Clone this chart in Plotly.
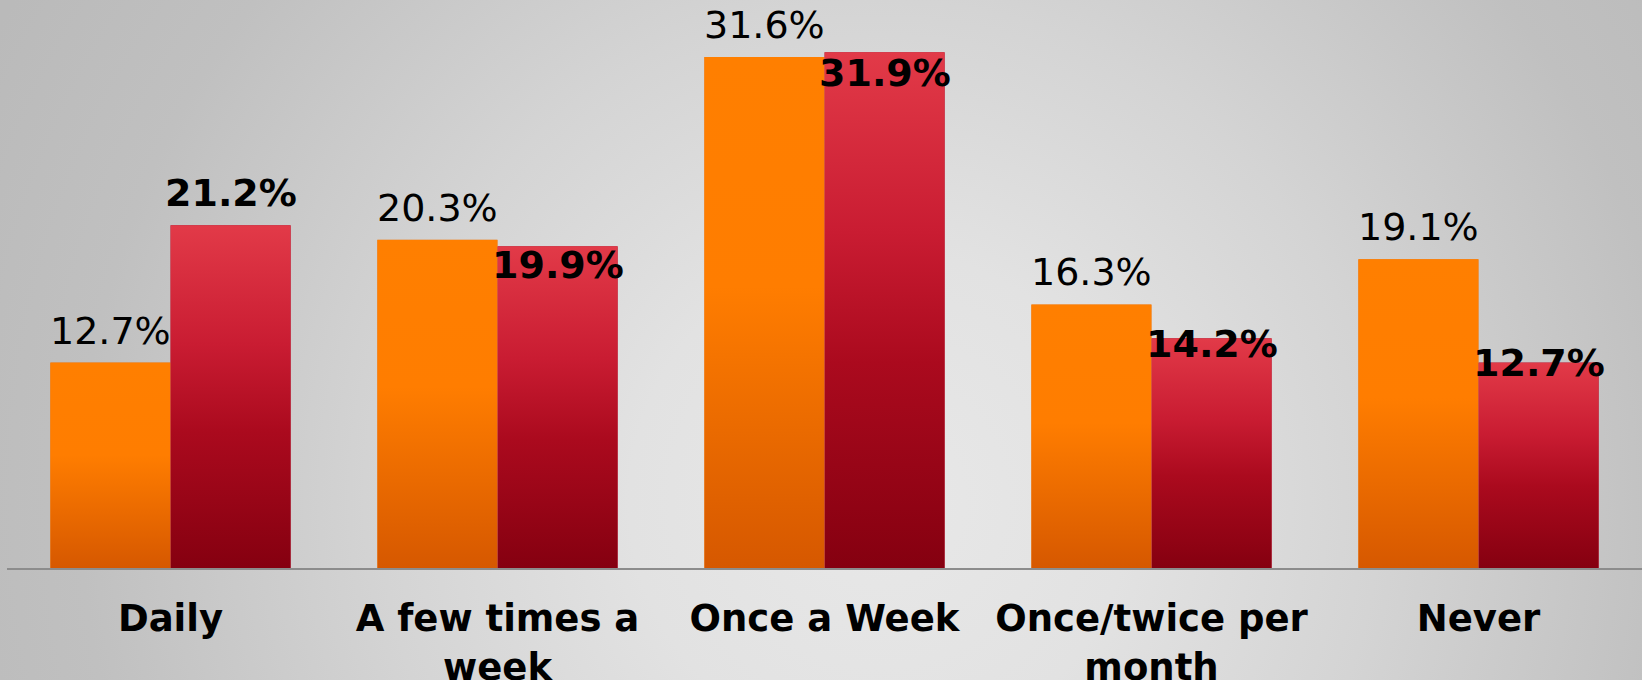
import base64
import plotly.graph_objects as go

# ---- data ----
categories = ["Daily", "A few times a<br>week", "Once a Week", "Once/twice per<br>month", "Never"]
series_a = [12.7, 20.3, 31.6, 16.3, 19.1]   # orange series
series_b = [21.2, 19.9, 31.9, 14.2, 12.7]   # red series
labels_a = ["12.7%", "20.3%", "31.6%", "16.3%", "19.1%"]
labels_b = ["21.2%", "19.9%", "31.9%", "14.2%", "12.7%"]

# ---- style ----
W, H = 1642, 680
ML, MR, MT, MB = 7, 0, 2, 112
BARGAP = 0.265
BW = (1 - BARGAP) / 2
label_shift_a = [32, 32, 32, 32, 32]
label_shift_b = [32, -19, -21, -6, 0]
FONT = "DejaVu Sans, Verdana, sans-serif"


def svg_uri(svg):
    return "data:image/svg+xml;base64," + base64.b64encode(svg.encode()).decode()


bg_svg = f"""<svg xmlns='http://www.w3.org/2000/svg' width='{W}' height='{H}' viewBox='0 0 {W} {H}' preserveAspectRatio='none'>
<defs><radialGradient id='g' gradientUnits='userSpaceOnUse' cx='880' cy='500' r='1000'>
<stop offset='0' stop-color='#e8e8e8'/>
<stop offset='0.25' stop-color='#e2e2e2'/>
<stop offset='0.5' stop-color='#d4d4d4'/>
<stop offset='0.8' stop-color='#c0c0c0'/>
<stop offset='1' stop-color='#bababa'/>
</radialGradient></defs>
<rect width='{W}' height='{H}' fill='url(#g)'/></svg>"""

orange_svg = """<svg xmlns='http://www.w3.org/2000/svg' width='10' height='100' viewBox='0 0 10 100' preserveAspectRatio='none'>
<defs><linearGradient id='o' x1='0' y1='0' x2='0' y2='1'>
<stop offset='0' stop-color='#ff7f00'/>
<stop offset='0.45' stop-color='#ff7d00'/>
<stop offset='1' stop-color='#d65800'/>
</linearGradient></defs><rect width='10' height='100' fill='url(#o)'/></svg>"""

red_svg = """<svg xmlns='http://www.w3.org/2000/svg' width='10' height='100' viewBox='0 0 10 100' preserveAspectRatio='none'>
<defs><linearGradient id='r' x1='0' y1='0' x2='0' y2='1'>
<stop offset='0' stop-color='#e23a48'/>
<stop offset='0.35' stop-color='#c91c32'/>
<stop offset='0.6' stop-color='#ab0a1e'/>
<stop offset='1' stop-color='#850010'/>
</linearGradient></defs><rect width='10' height='100' fill='url(#r)'/></svg>"""

x = list(range(len(categories)))

fig = go.Figure()
fig.add_trace(go.Bar(x=x, y=series_a, marker=dict(color="#f07000", line=dict(width=0)),
                     name="A", hoverinfo="skip"))
fig.add_trace(go.Bar(x=x, y=series_b, marker=dict(color="#b5102a", line=dict(width=0)),
                     name="B", hoverinfo="skip"))

pw = W - ML - MR
ph = H - MT - MB
images = [dict(source=svg_uri(bg_svg), xref="paper", yref="paper",
               x=-ML / pw, y=1 + MT / ph, sizex=W / pw, sizey=H / ph,
               xanchor="left", yanchor="top", sizing="stretch", layer="below")]
for i, (va, vb) in enumerate(zip(series_a, series_b)):
    images.append(dict(source=svg_uri(orange_svg), xref="x", yref="y",
                       x=i - BW, y=va, sizex=BW, sizey=va,
                       xanchor="left", yanchor="top", sizing="stretch", layer="above"))
    images.append(dict(source=svg_uri(red_svg), xref="x", yref="y",
                       x=i, y=vb, sizex=BW, sizey=vb,
                       xanchor="left", yanchor="top", sizing="stretch", layer="above"))

annotations = []
for i in x:
    annotations.append(dict(x=i - BW / 2, y=series_a[i], xref="x", yref="y",
                            text=labels_a[i], showarrow=False, yanchor="middle",
                            yshift=label_shift_a[i],
                            font=dict(family=FONT, size=38, color="#000000")))
    annotations.append(dict(x=i + BW / 2, y=series_b[i], xref="x", yref="y",
                            text="<b>" + labels_b[i] + "</b>", showarrow=False, yanchor="middle",
                            yshift=label_shift_b[i],
                            font=dict(family=FONT, size=38, color="#000000")))

fig.update_layout(
    width=W, height=H,
    margin=dict(l=ML, r=MR, t=MT, b=MB),
    barmode="group", bargap=BARGAP, bargroupgap=0,
    paper_bgcolor="#d2d2d2", plot_bgcolor="rgba(0,0,0,0)",
    showlegend=False,
    images=images,
    annotations=annotations,
    xaxis=dict(tickvals=x, ticktext=["<b>" + c.replace("<br>", "</b><br><b>") + "</b>" for c in categories],
               range=[-0.5, len(categories) - 0.5],
               showline=True, linecolor="#8c8c8c", linewidth=2,
               showgrid=False, zeroline=False, ticks="",
               ticklabelstandoff=17, automargin=False,
               tickfont=dict(family=FONT, size=37, color="#000000")),
    yaxis=dict(range=[0, 35], visible=False, showgrid=False, zeroline=False),
)

fig.write_html("out.html",
               config={"displayModeBar": False, "staticPlot": True},
               post_script="document.body.style.margin='0';document.body.style.padding='0';document.body.style.overflow='hidden';")
